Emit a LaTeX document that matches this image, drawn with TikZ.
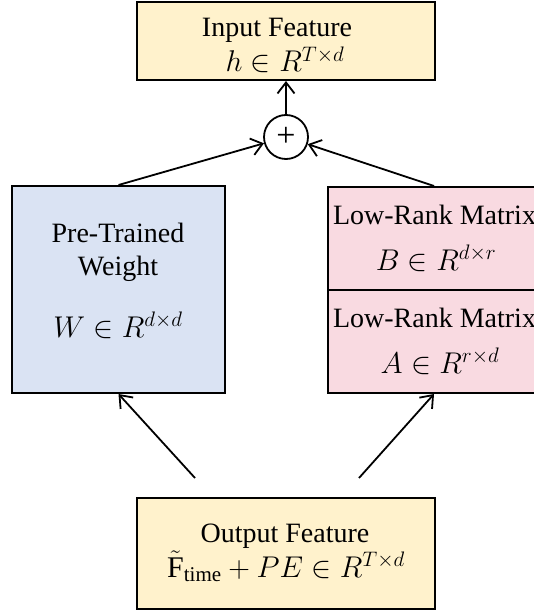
\RequirePackage{fix-cm}
\documentclass[tikz,border=0pt]{standalone}
\usepackage{fontspec}
\setmainfont{Liberation Serif}
\usetikzlibrary{arrows.meta}
\definecolor{yel}{RGB}{255,242,204}
\definecolor{blu}{RGB}{218,227,243}
\definecolor{pnk}{RGB}{249,218,225}
\tikzset{
  x=1pt,y=-1pt,
  box/.style={draw=black, line width=2pt, rectangle, inner sep=0pt},
  txt/.style={inner sep=0pt, anchor=base, font=\fontsize{28}{32}\selectfont},
  mth/.style={inner sep=0pt, anchor=base, font=\fontsize{30}{34}\selectfont},
  arr/.style={draw=black, line width=1.8pt, -{Straight Barb[length=11pt,width=17pt]}},
}
\begin{document}
\begin{tikzpicture}
\useasboundingbox (0,0) rectangle (534,612);
\clip (0,0) rectangle (534,612);
% boxes
\node[box, fill=yel, minimum width=298pt, minimum height=78pt] (inbox) at (286,41) {};
\node[box, fill=blu, minimum width=213pt, minimum height=207pt] (wbox) at (118.5,289.5) {};
\node[box, fill=pnk, minimum width=212pt, minimum height=103pt] (bbox) at (434,238.5) {};
\node[box, fill=pnk, minimum width=212pt, minimum height=103pt] (abox) at (434,341.5) {};
\node[box, fill=yel, minimum width=298pt, minimum height=111pt] (outbox) at (286,553.5) {};
\node[draw=black, line width=1.8pt, circle, fill=white, minimum size=44pt, inner sep=0pt] (circ) at (286,137) {};
\node[inner sep=0pt, anchor=center, font=\fontsize{34}{38}\selectfont] (plus) at (286,137) {+};
% texts
\node[txt] (t1) at (277,37) {Input Feature};
\node[mth] (t2) at (285,72) {$h \in R^{T\times d}$};
\node[txt] (t3) at (118,242) {Pre-Trained};
\node[txt] (t4) at (118,275) {Weight};
\node[mth] (t5) at (118,337) {$W \in R^{d\times d}$};
\node[txt] (t6) at (434.5,225) {Low-Rank Matrix};
\node[mth] (t7) at (436,270) {$B \in R^{d\times r}$};
\node[txt] (t8) at (434.5,327) {Low-Rank Matrix};
\node[mth] (t9) at (440,373) {$A \in R^{r\times d}$};
\node[txt] (t10) at (285,542) {Output Feature};
\node[mth] (t11) at (286,577) {$\tilde{\mathrm{F}}_{\mathrm{time}} + PE \in R^{T\times d}$};
% connectors
\coordinate (s1) at (195,478);
\coordinate (s2) at (359,478);
\draw[arr] (circ) -- (inbox);
\draw[arr] (wbox.north) -- (circ);
\draw[arr] (bbox.north) -- (circ);
\draw[arr] (s1) -- (wbox.south);
\draw[arr] (s2) -- (abox.south);
\end{tikzpicture}
\end{document}
